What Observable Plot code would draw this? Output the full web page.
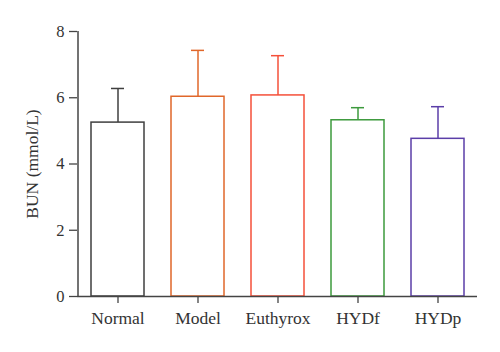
<!DOCTYPE html>
<html>
<head>
<meta charset="utf-8">
<script src="https://cdn.jsdelivr.net/npm/d3@7"></script>
<script src="https://cdn.jsdelivr.net/npm/@observablehq/plot@0.6"></script>
<style>
  html, body { margin: 0; padding: 0; background: #fff; }
  #chart svg { display: block; }
</style>
</head>
<body>
<div id="chart"></div>
<script>
const groups = ["Normal", "Model", "Euthyrox", "HYDf", "HYDp"];
const means = [5.25, 6.03, 6.07, 5.32, 4.76];
const sds = [1.03, 1.40, 1.20, 0.38, 0.97];
const colors = ["#3f3f3f", "#e0672a", "#f5503a", "#3d9a3d", "#5b3ea8"];
const yTicks = [0, 2, 4, 6, 8];
const yLabel = "BUN (mmol/L)";

const data = groups.map((g, i) => ({group: g, mean: means[i], top: means[i] + sds[i]}));

const plot = Plot.plot({
  width: 500,
  height: 352,
  marginLeft: 77,
  marginRight: 23,
  marginTop: 31,
  marginBottom: 56,
  style: {fontFamily: "'Liberation Serif', serif", background: "#fff", color: "#333"},
  x: {domain: groups, padding: 0.3375, paddingOuter: 0.16875, label: null, axis: null},
  y: {domain: [0, 8], axis: null},
  color: {domain: groups, range: colors},
  marks: [
    Plot.barY(data, {x: "group", y: "mean", fill: "white", stroke: "group", strokeWidth: 1.5}),
    Plot.ruleX(data, {x: "group", y1: "mean", y2: "top", stroke: "group", strokeWidth: 1.5}),
    Plot.tickY(data, {x: "group", y: "top", stroke: "group", strokeWidth: 1.5, insetLeft: 20, insetRight: 20}),
    Plot.axisY({ticks: yTicks, tickSize: 8, tickPadding: 5, fontSize: 16.5, stroke: "#444", strokeWidth: 1.3, label: null}),
    Plot.axisX({tickSize: 7, tickPadding: 8, fontSize: 17.5, stroke: "#444", strokeWidth: 1.3, label: null}),
    Plot.ruleY([0], {stroke: "#444", strokeWidth: 1.5}),
    Plot.ruleX([groups[0]], {x: d => d, y1: 0, y2: 8, dx: -40, stroke: "#444", strokeWidth: 1.5}),
    Plot.text([yLabel], {text: d => d, frameAnchor: "left", textAnchor: "middle", lineAnchor: "middle", rotate: -90, dx: -45, fontSize: 17.5, fill: "#333"})
  ]
});
document.getElementById("chart").appendChild(plot);
</script>
</body>
</html>
